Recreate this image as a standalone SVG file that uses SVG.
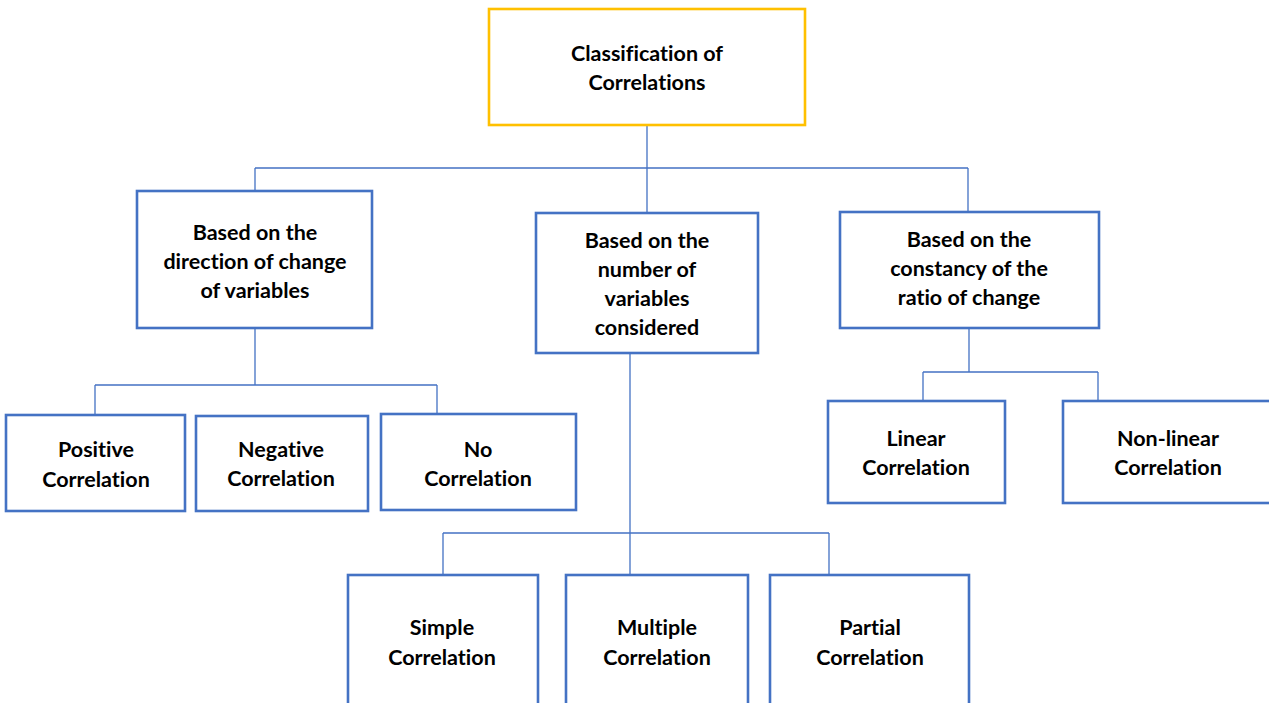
<svg xmlns="http://www.w3.org/2000/svg" width="1269" height="703" viewBox="0 0 1269 703">
<style>
.box{fill:#fff;stroke:#4472C4;stroke-width:2.6}
.root{fill:#fff;stroke:#FFC000;stroke-width:2.6}
.t{font-family:Lato,"Liberation Sans",sans-serif;font-weight:bold;font-size:21.5px;fill:#000;text-anchor:middle;font-variant-ligatures:none}
.c{fill:none;stroke:#4472C4;stroke-width:1.3}
</style>
<rect width="1269" height="703" fill="#fff"/>
<g id="connectors">
<path class="c" d="M647,125 V213 M255,168 H968 M255,168 V191 M968,168 V212"/>
<path class="c" d="M255,328 V385 M95,385 H437 M95,385 V415 M437,385 V414"/>
<path class="c" d="M630,353 V575 M443,533 H829 M443,533 V575 M829,533 V575"/>
<path class="c" d="M969,328 V372 M923,372 H1098 M923,372 V401 M1098,372 V401"/>
</g>
<g id="root"><rect class="root" x="489" y="9" width="316" height="116"/>
<text class="t" x="647" y="61">Classification of</text><text class="t" x="647" y="90">Correlations</text></g>
<g id="direction"><rect class="box" x="137" y="191" width="235" height="137"/>
<text class="t" x="255" y="240">Based on the</text><text class="t" x="255" y="269">direction of change</text><text class="t" x="255" y="298">of variables</text></g>
<g id="number"><rect class="box" x="536" y="213" width="222" height="140"/>
<text class="t" x="647" y="248">Based on the</text><text class="t" x="647" y="277">number of</text><text class="t" x="647" y="306">variables</text><text class="t" x="647" y="335">considered</text></g>
<g id="constancy"><rect class="box" x="840" y="212" width="259" height="116"/>
<text class="t" x="969" y="247">Based on the</text><text class="t" x="969" y="276">constancy of the</text><text class="t" x="969" y="305">ratio of change</text></g>
<g id="positive"><rect class="box" x="6" y="415" width="179" height="96"/>
<text class="t" x="96" y="457">Positive</text><text class="t" x="96" y="487">Correlation</text></g>
<g id="negative"><rect class="box" x="196" y="416" width="172" height="95"/>
<text class="t" x="281" y="457">Negative</text><text class="t" x="281" y="486">Correlation</text></g>
<g id="nocorr"><rect class="box" x="381" y="414" width="195" height="96"/>
<text class="t" x="478" y="457">No</text><text class="t" x="478" y="486">Correlation</text></g>
<g id="linear"><rect class="box" x="828" y="401" width="177" height="102"/>
<text class="t" x="916" y="446">Linear</text><text class="t" x="916" y="475">Correlation</text></g>
<g id="nonlinear"><rect class="box" x="1063" y="401" width="220" height="102"/>
<text class="t" x="1168" y="446">Non-linear</text><text class="t" x="1168" y="475">Correlation</text></g>
<g id="simple"><rect class="box" x="348" y="575" width="190" height="140"/>
<text class="t" x="442" y="635">Simple</text><text class="t" x="442" y="665">Correlation</text></g>
<g id="multiple"><rect class="box" x="566" y="575" width="182" height="140"/>
<text class="t" x="657" y="635">Multiple</text><text class="t" x="657" y="665">Correlation</text></g>
<g id="partial"><rect class="box" x="770" y="575" width="199" height="140"/>
<text class="t" x="870" y="635">Partial</text><text class="t" x="870" y="665">Correlation</text></g>
</svg>
